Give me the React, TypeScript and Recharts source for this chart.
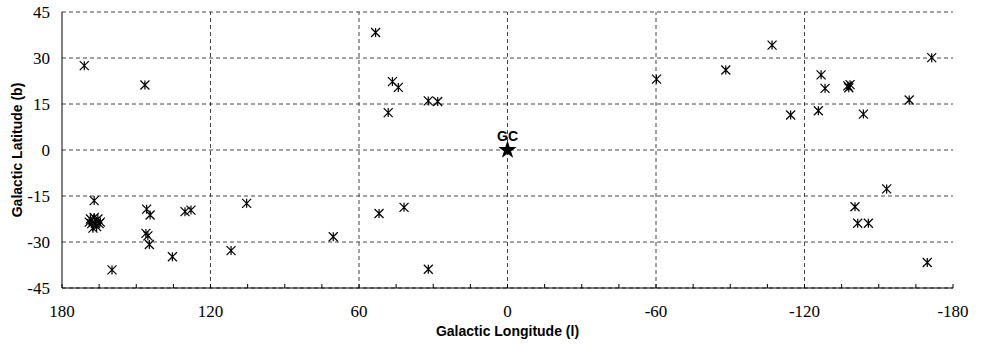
import {
  CartesianGrid,
  LabelList,
  ReferenceLine,
  Scatter,
  ScatterChart,
  Symbols,
  XAxis,
  YAxis,
} from "recharts";

// source positions, galactic coordinates in degrees
const longitudes = [
  171.0, 146.5, 167.0,
  168.5, 167.0, 165.5, 168.0, 166.5, 165.0, 167.5, 166.0, 164.5, 169.0,
  145.8, 144.4, 146.1, 145.3, 144.7, 159.8, 135.4, 130.3, 127.9, 111.7, 105.4,
  53.3, 46.5, 44.1, 48.2, 32.0, 28.2, 51.9, 41.8, 70.4, 32.0,
  -60.2, -88.2, -106.9, -114.4, -126.7, -128.3, -125.6, -137.5, -138.4, -137.9,
  -143.8, -162.3, -171.4, -153.2, -140.4, -141.5, -145.8, -169.6,
];
const latitudes = [
  27.5, 21.2, -16.5,
  -22.5, -22.0, -22.5, -24.0, -24.0, -24.0, -25.5, -25.0, -23.5, -23.5,
  -19.3, -21.2, -27.2, -28.0, -30.8, -39.1, -34.8, -20.1, -19.6, -32.8, -17.4,
  38.3, 22.3, 20.4, 12.2, 16.0, 15.8, -20.7, -18.7, -28.3, -38.9,
  23.1, 26.1, 34.2, 11.4, 24.5, 20.1, 12.8, 20.9, 21.3, 20.3,
  11.7, 16.3, 30.1, -12.7, -18.5, -23.9, -23.9, -36.7,
];

const centreLon = [0];
const centreLat = [0];
const centreNames = ["GC"];

const xMajorTicks = [180, 120, 60, 0, -60, -120, -180];
const xMinorTicks = [
  180, 165, 150, 135, 120, 105, 90, 75, 60, 45, 30, 15, 0,
  -15, -30, -45, -60, -75, -90, -105, -120, -135, -150, -165, -180,
];
const yTicks = [-45, -30, -15, 0, 15, 30, 45];

const sources = longitudes.map((l, i) => ({ l, b: latitudes[i] }));
const centre = centreLon.map((l, i) => ({ l, b: centreLat[i], name: centreNames[i] }));

const serif = "Liberation Serif, Times New Roman, serif";
const sans = "Liberation Sans, Arial, sans-serif";
const gridColor = "#444";

function Asterisk(props: { cx?: number; cy?: number }) {
  const { cx = 0, cy = 0 } = props;
  const r = 4.5;
  return (
    <path
      d={`M${cx - r},${cy - r}L${cx + r},${cy + r}M${cx - r},${cy + r}L${cx + r},${cy - r}M${cx},${cy - r}L${cx},${cy + r}`}
      stroke="#000"
      strokeWidth={1.2}
      fill="none"
    />
  );
}

function Star(props: { cx?: number; cy?: number }) {
  const { cx = 0, cy = 0 } = props;
  return <Symbols cx={cx} cy={cy} type="star" size={105} fill="#000" />;
}

function XTick(props: any) {
  const { x, y, payload } = props;
  if (!xMajorTicks.includes(payload.value)) return null;
  return (
    <text x={x} y={y} dy={12} textAnchor="middle" fill="#000" fontSize={17} fontFamily={serif}>
      {payload.value}
    </text>
  );
}

function YTick(props: any) {
  const { x, y, payload } = props;
  return (
    <text x={x} y={y} dy={6} textAnchor="end" fill="#000" fontSize={17} fontFamily={serif}>
      {payload.value}
    </text>
  );
}

export default function App() {
  return (
    <div style={{ position: "absolute", left: 0, top: 0, background: "#fff" }}>
      <ScatterChart
        width={981}
        height={347}
        margin={{ top: 12, right: 28, bottom: 0, left: 0 }}
      >
        <CartesianGrid
          vertical={false}
          stroke={gridColor}
          strokeDasharray="4 3"
        />
        {xMajorTicks.slice(1, -1).map((t) => (
          <ReferenceLine
            key={t}
            x={t}
            stroke={gridColor}
            strokeDasharray="4 3"
          />
        ))}
        <XAxis
          dataKey="l"
          type="number"
          domain={[-180, 180]}
          reversed
          ticks={xMinorTicks}
          interval={0}
          tickSize={-4}
          tickMargin={21}
          tickLine={{ stroke: "#000" }}
          axisLine={{ stroke: "#000" }}
          tick={<XTick />}
          height={59}
          label={{
            value: "Galactic Longitude (l)",
            position: "insideBottom",
            offset: 11,
            fill: "#000",
            fontSize: 14,
            fontWeight: "bold",
            fontFamily: sans,
          }}
        />
        <XAxis
          xAxisId="top"
          orientation="top"
          type="number"
          domain={[-180, 180]}
          reversed
          ticks={xMinorTicks}
          interval={0}
          tickFormatter={() => ""}
          tickSize={-4}
          tickLine={{ stroke: "#000" }}
          axisLine={{ stroke: "#000" }}
          height={0}
        />
        <YAxis
          dataKey="b"
          type="number"
          domain={[-45, 45]}
          ticks={yTicks}
          interval={0}
          tickLine={false}
          tickMargin={6}
          axisLine={{ stroke: "#000" }}
          tick={<YTick />}
          width={62}
          label={{
            value: "Galactic Latitude (b)",
            angle: -90,
            position: "insideLeft",
            offset: 17,
            style: { textAnchor: "middle" },
            fill: "#000",
            fontSize: 14,
            fontWeight: "bold",
            fontFamily: sans,
          }}
        />
        <YAxis
          yAxisId="right"
          orientation="right"
          type="number"
          domain={[-45, 45]}
          ticks={yTicks}
          tick={false}
          tickLine={false}
          axisLine={{ stroke: "#000" }}
          width={0}
        />
        <Scatter
          data={sources}
          shape={<Asterisk />}
          isAnimationActive={false}
        />
        <Scatter
          data={centre}
          shape={<Star />}
          fill="#000"
          isAnimationActive={false}
        >
          <LabelList
            dataKey="name"
            position="top"
            offset={4}
            fill="#000"
            fontSize={14}
            fontWeight="bold"
            fontFamily={sans}
          />
        </Scatter>
      </ScatterChart>
    </div>
  );
}
